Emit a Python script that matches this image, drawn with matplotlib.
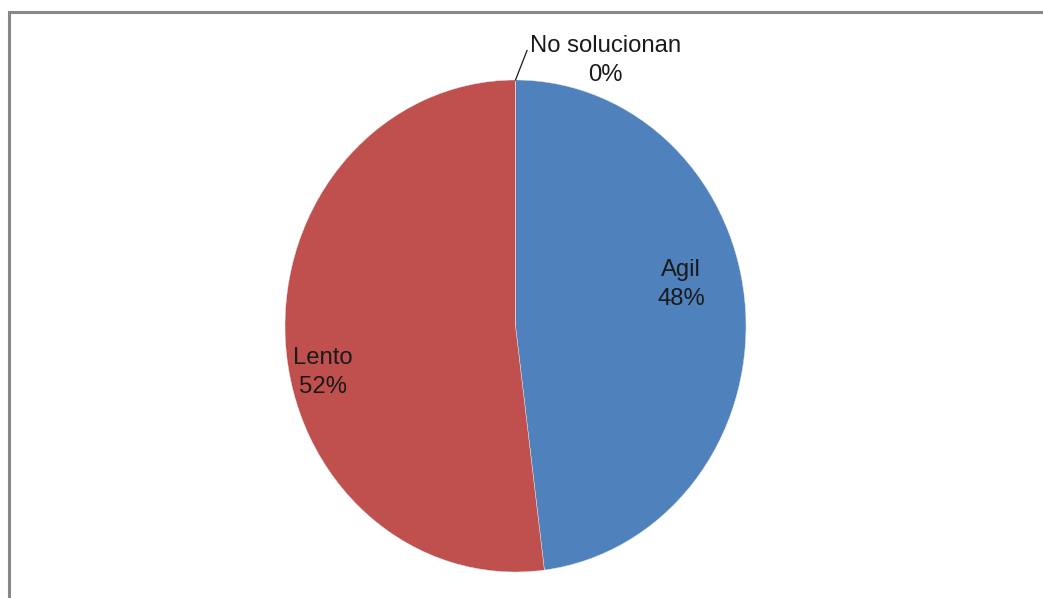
import numpy as np
import matplotlib.pyplot as plt
from matplotlib.patches import Rectangle

categories = ['Agil', 'Lento', 'No solucionan']
values = [48, 52, 0]
pct_labels = ['48%', '52%', '0%']
colors = ['#4F81BD', '#C0504D', '#9BBB59']

W, H = 1043, 598
fig = plt.figure(figsize=(W / 100, H / 100), dpi=100)
plt.rcParams['font.family'] = ['Liberation Sans', 'DejaVu Sans']

# frame of the chart area (runs past the right and bottom edges)
fig.patches.append(Rectangle((9 / W, -0.1), 1.2, (H - 12) / H + 0.1,
                             transform=fig.transFigure, fill=False,
                             edgecolor='#878787', linewidth=2.2))

# pie box in pixels: x 285..746, y 80..572 (from top)
ax = fig.add_axes([285 / W, (H - 572) / H, 461 / W, 492 / H])
wedges, _ = ax.pie(values, colors=colors, startangle=90, counterclock=False,
                   wedgeprops=dict(edgecolor='#e8e8e8', linewidth=0.3))
ax.set_aspect('auto')
ax.set_xlim(-1, 1)
ax.set_ylim(-1, 1)
ax.axis('off')

# label positions (axes data units, radius = 1)
label_pos = [(0.718, 0.17), (-0.835, -0.19), (0.39, 1.078)]
for name, pct, (x, y) in zip(categories, pct_labels, label_pos):
    ax.text(x, y, name + '\n' + pct, ha='center', va='center',
            fontsize=17.2, color='#1a1a1a', linespacing=1.42, clip_on=False)

# leader line for the empty slice
ax.plot([0.0, 0.05], [1.0, 1.12], color='#1a1a1a', linewidth=0.9, clip_on=False)

fig.savefig('out.png', dpi=100)
